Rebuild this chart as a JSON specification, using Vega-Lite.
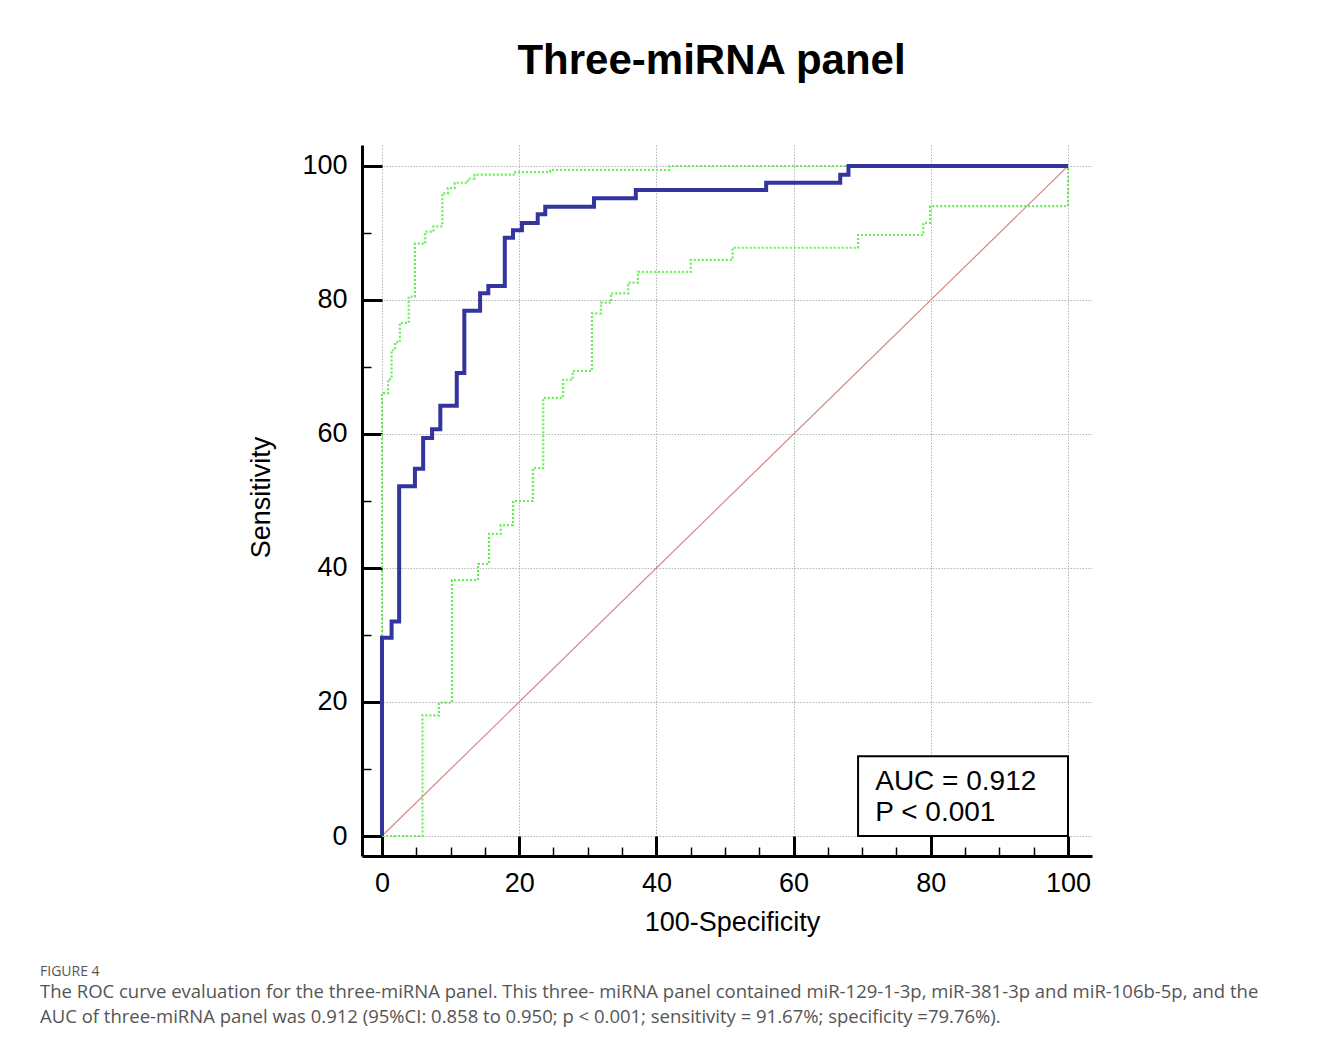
{
  "$schema": "https://vega.github.io/schema/vega-lite/v6.json",
  "autosize": "none",
  "padding": {"left": 362, "top": 145, "right": 241, "bottom": 190},
  "width": 730,
  "height": 711,
  "background": "white",
  "title": {
    "text": "FIGURE 4",
    "subtitle": [
      "The ROC curve evaluation for the three-miRNA panel. This three- miRNA panel contained miR-129-1-3p, miR-381-3p and miR-106b-5p, and the",
      "AUC of three-miRNA panel was 0.912 (95%CI: 0.858 to 0.950; p < 0.001; sensitivity = 91.67%; specificity =79.76%)."
    ],
    "orient": "bottom",
    "anchor": "start",
    "frame": "group",
    "dx": -322,
    "offset": 30,
    "font": "Open Sans",
    "fontSize": 14,
    "fontWeight": "normal",
    "color": "#555555",
    "subtitleFont": "Open Sans",
    "subtitleFontSize": 18.5,
    "subtitleColor": "#555555",
    "subtitleLineHeight": 25,
    "subtitlePadding": 4
  },
  "datasets": {
    "roc": [
      {"i": 0, "fpr": 0, "tpr": 0},
      {"i": 1, "fpr": 0, "tpr": 29.6},
      {"i": 2, "fpr": 1.4, "tpr": 32.0},
      {"i": 3, "fpr": 2.5, "tpr": 52.2},
      {"i": 4, "fpr": 4.8, "tpr": 54.8},
      {"i": 5, "fpr": 6.0, "tpr": 59.4},
      {"i": 6, "fpr": 7.3, "tpr": 60.7},
      {"i": 7, "fpr": 8.5, "tpr": 64.2},
      {"i": 8, "fpr": 10.9, "tpr": 69.1},
      {"i": 9, "fpr": 12.0, "tpr": 78.4},
      {"i": 10, "fpr": 14.3, "tpr": 81.0},
      {"i": 11, "fpr": 15.5, "tpr": 82.1},
      {"i": 12, "fpr": 17.9, "tpr": 89.3},
      {"i": 13, "fpr": 19.1, "tpr": 90.4},
      {"i": 14, "fpr": 20.4, "tpr": 91.5},
      {"i": 15, "fpr": 22.7, "tpr": 92.8},
      {"i": 16, "fpr": 23.8, "tpr": 93.9},
      {"i": 17, "fpr": 30.9, "tpr": 95.2},
      {"i": 18, "fpr": 37.0, "tpr": 96.4},
      {"i": 19, "fpr": 56.0, "tpr": 97.5},
      {"i": 20, "fpr": 66.8, "tpr": 98.7},
      {"i": 21, "fpr": 68.0, "tpr": 100},
      {"i": 22, "fpr": 100, "tpr": 100}
    ],
    "upper": [
      {"i": 0, "fpr": 0, "tpr": 0},
      {"i": 1, "fpr": 0, "tpr": 66.1},
      {"i": 2, "fpr": 0.9, "tpr": 68.2},
      {"i": 3, "fpr": 1.4, "tpr": 72.5},
      {"i": 4, "fpr": 1.9, "tpr": 73.7},
      {"i": 5, "fpr": 2.6, "tpr": 76.6},
      {"i": 6, "fpr": 3.9, "tpr": 80.5},
      {"i": 7, "fpr": 4.8, "tpr": 88.4},
      {"i": 8, "fpr": 6.3, "tpr": 90.2},
      {"i": 9, "fpr": 7.5, "tpr": 91.0},
      {"i": 10, "fpr": 8.8, "tpr": 95.9},
      {"i": 11, "fpr": 9.6, "tpr": 96.7},
      {"i": 12, "fpr": 10.6, "tpr": 97.5},
      {"i": 13, "fpr": 12.5, "tpr": 98.1},
      {"i": 14, "fpr": 13.5, "tpr": 98.7},
      {"i": 15, "fpr": 19.4, "tpr": 99.1},
      {"i": 16, "fpr": 24.5, "tpr": 99.4},
      {"i": 17, "fpr": 41.9, "tpr": 100},
      {"i": 18, "fpr": 100, "tpr": 100}
    ],
    "lower": [
      {"i": 0, "fpr": 0, "tpr": 0},
      {"i": 1, "fpr": 5.9, "tpr": 18.0},
      {"i": 2, "fpr": 8.3, "tpr": 19.9},
      {"i": 3, "fpr": 10.2, "tpr": 38.2},
      {"i": 4, "fpr": 14.0, "tpr": 40.6},
      {"i": 5, "fpr": 15.6, "tpr": 45.1},
      {"i": 6, "fpr": 17.3, "tpr": 46.4},
      {"i": 7, "fpr": 19.1, "tpr": 50.0},
      {"i": 8, "fpr": 22.0, "tpr": 54.9},
      {"i": 9, "fpr": 23.5, "tpr": 65.4},
      {"i": 10, "fpr": 26.4, "tpr": 68.1},
      {"i": 11, "fpr": 27.8, "tpr": 69.4},
      {"i": 12, "fpr": 30.6, "tpr": 78.0},
      {"i": 13, "fpr": 31.9, "tpr": 79.6},
      {"i": 14, "fpr": 33.4, "tpr": 81.0},
      {"i": 15, "fpr": 35.9, "tpr": 82.6},
      {"i": 16, "fpr": 37.3, "tpr": 84.2},
      {"i": 17, "fpr": 45.0, "tpr": 86.0},
      {"i": 18, "fpr": 51.1, "tpr": 87.8},
      {"i": 19, "fpr": 69.4, "tpr": 89.7},
      {"i": 20, "fpr": 78.9, "tpr": 91.5},
      {"i": 21, "fpr": 79.9, "tpr": 94.0},
      {"i": 22, "fpr": 100, "tpr": 100}
    ],
    "diag": [
      {"fpr": 0, "tpr": 0},
      {"fpr": 100, "tpr": 100}
    ],
    "box": [
      {"x1": 69.4, "x2": 100, "y1": 0, "y2": 11.9}
    ],
    "notes": [
      {"label": "AUC = 0.912", "x": 71.9, "y": 6.9},
      {"label": "P < 0.001", "x": 71.9, "y": 2.2}
    ]
  },
  "resolve": {"axis": {"x": "independent"}},
  "layer": [
    {
      "data": {"name": "diag"},
      "mark": {"type": "line", "color": "#d08a8a", "strokeWidth": 1.2},
      "encoding": {
        "x": {
          "field": "fpr", "type": "quantitative",
          "scale": {"domain": [-2.915, 103.5], "nice": false, "zero": false},
          "axis": {
            "values": [0, 5, 10, 15, 20, 25, 30, 35, 40, 45, 50, 55, 60, 65, 70, 75, 80, 85, 90, 95, 100],
            "domainColor": "black", "domainWidth": 3,
            "tickColor": "black",
            "tickSize": {"condition": {"test": "datum.value % 20 === 0", "value": -20}, "value": -9},
            "tickWidth": {"condition": {"test": "datum.value % 20 === 0", "value": 3}, "value": 1.5},
            "grid": true, "gridColor": "#b4b4b4", "gridDash": [1.5, 1.5], "gridWidth": 1,
            "gridOpacity": {"condition": {"test": "datum.value % 20 === 0", "value": 1}, "value": 0},
            "labelExpr": "datum.value % 20 === 0 ? datum.label : ''",
            "labelFont": "Liberation Sans", "labelFontSize": 27, "labelColor": "black",
            "labelPadding": 34, "labelFlush": false, "labelOverlap": false,
            "title": "100-Specificity",
            "titleFont": "Liberation Sans", "titleFontSize": 27, "titleFontWeight": "normal", "titleColor": "black",
            "titleX": 370, "titleY": 74, "titleAlign": "center", "titleBaseline": "alphabetic"
          }
        },
        "y": {
          "field": "tpr", "type": "quantitative",
          "scale": {"domain": [-2.985, 103.134], "nice": false, "zero": false},
          "axis": {
            "values": [0, 5, 10, 15, 20, 25, 30, 35, 40, 45, 50, 55, 60, 65, 70, 75, 80, 85, 90, 95, 100],
            "domainColor": "black", "domainWidth": 3,
            "tickColor": "black",
            "tickSize": {"condition": {"test": "datum.value % 20 === 0", "value": -20}, "value": -9},
            "tickWidth": {"condition": {"test": "datum.value % 20 === 0", "value": 3}, "value": 1.5},
            "grid": true, "gridColor": "#b4b4b4", "gridDash": [1.5, 1.5], "gridWidth": 1,
            "gridOpacity": {"condition": {"test": "datum.value % 20 === 0", "value": 1}, "value": 0},
            "labelExpr": "datum.value % 20 === 0 ? datum.label : ''",
            "labelFont": "Liberation Sans", "labelFontSize": 27, "labelColor": "black",
            "labelPadding": 35, "labelFlush": false, "labelOverlap": false,
            "title": "Sensitivity",
            "titleFont": "Liberation Sans", "titleFontSize": 27, "titleFontWeight": "normal", "titleColor": "black",
            "titleX": -93, "titleY": 352, "titleAngle": -90, "titleAlign": "center", "titleBaseline": "alphabetic"
          }
        }
      }
    },
    {
      "data": {"name": "lower"},
      "mark": {"type": "line", "interpolate": "step-after", "color": "#66ee55", "strokeWidth": 2.2, "strokeDash": [2, 2]},
      "encoding": {
        "x": {"field": "fpr", "type": "quantitative", "axis": null},
        "y": {"field": "tpr", "type": "quantitative"},
        "order": {"field": "i", "type": "quantitative"}
      }
    },
    {
      "data": {"name": "upper"},
      "mark": {"type": "line", "interpolate": "step-after", "color": "#66ee55", "strokeWidth": 2.2, "strokeDash": [2, 2]},
      "encoding": {
        "x": {"field": "fpr", "type": "quantitative", "axis": null},
        "y": {"field": "tpr", "type": "quantitative"},
        "order": {"field": "i", "type": "quantitative"}
      }
    },
    {
      "data": {"name": "roc"},
      "mark": {"type": "line", "interpolate": "step-after", "color": "#33349e", "strokeWidth": 4},
      "encoding": {
        "x": {"field": "fpr", "type": "quantitative", "axis": null},
        "y": {"field": "tpr", "type": "quantitative"},
        "order": {"field": "i", "type": "quantitative"}
      }
    },
    {
      "data": {"name": "box"},
      "mark": {"type": "rect", "fill": "white", "stroke": "black", "strokeWidth": 2},
      "encoding": {
        "x": {
          "field": "x1", "type": "quantitative",
          "axis": {
            "orient": "top", "domain": false, "ticks": false, "labels": false, "grid": false,
            "title": "Three-miRNA panel",
            "titleFont": "Liberation Sans", "titleFontSize": 42, "titleFontWeight": "bold", "titleColor": "black",
            "titleX": 349, "titleY": -72, "titleAlign": "center", "titleBaseline": "alphabetic"
          }
        },
        "x2": {"field": "x2"},
        "y": {"field": "y1", "type": "quantitative"},
        "y2": {"field": "y2"}
      }
    },
    {
      "data": {"name": "notes"},
      "mark": {"type": "text", "font": "Liberation Sans", "fontSize": 28, "align": "left", "baseline": "alphabetic", "color": "black"},
      "encoding": {
        "x": {"field": "x", "type": "quantitative", "axis": null},
        "y": {"field": "y", "type": "quantitative"},
        "text": {"field": "label"}
      }
    }
  ],
  "config": {
    "view": {"stroke": null}
  }
}
